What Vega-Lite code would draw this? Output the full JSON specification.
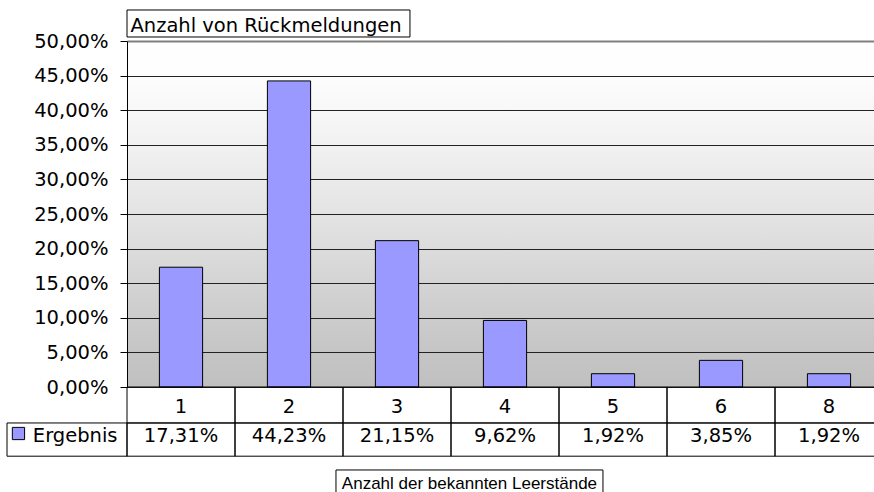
{
  "$schema": "https://vega.github.io/schema/vega-lite/v6.json",
  "width": 747,
  "height": 346,
  "autosize": "none",
  "padding": {"left": 127, "top": 41, "right": 0, "bottom": 105},
  "config": {
    "locale": {"number": {"decimal": ",", "thousands": ".", "grouping": [3], "currency": ["", " €"]}},
    "font": "DejaVu Sans",
    "axisY": {
      "labelFont": "DejaVu Sans",
      "labelFontSize": 19.5,
      "labelColor": "#000",
      "labelPadding": 12,
      "labelOverlap": false,
      "tickSize": 7,
      "tickColor": "#000",
      "domainColor": "#000",
      "grid": true
    },
    "view": {
      "stroke": null,
      "fill": {"gradient": "linear", "x1": 0, "y1": 0, "x2": 0, "y2": 1,
        "stops": [
          {"offset": 0, "color": "#FFFFFF"},
          {"offset": 0.1, "color": "#FDFDFD"},
          {"offset": 0.2, "color": "#F8F8F8"},
          {"offset": 0.3, "color": "#F1F1F1"},
          {"offset": 0.45, "color": "#E7E7E7"},
          {"offset": 0.6, "color": "#DCDCDC"},
          {"offset": 0.75, "color": "#D0D0D0"},
          {"offset": 0.9, "color": "#C5C5C5"},
          {"offset": 1, "color": "#C0C0C0"}
        ]}
    },
    "text": {"font": "DejaVu Sans", "fontSize": 19.5, "color": "#000"}
  },
  "datasets": {
    "results": [
      {"k": "1", "v": 0.1731},
      {"k": "2", "v": 0.4423},
      {"k": "3", "v": 0.2115},
      {"k": "4", "v": 0.0962},
      {"k": "5", "v": 0.0192},
      {"k": "6", "v": 0.0385},
      {"k": "8", "v": 0.0192}
    ]
  },
  "layer": [
    {
      "data": {"name": "results"},
      "encoding": {
        "x": {"field": "k", "type": "nominal", "sort": null, "axis": null,
          "scale": {"type": "band", "range": [0, 756], "paddingInner": 0, "paddingOuter": 0}}
      },
      "layer": [
        {
          "mark": {"type": "bar", "width": {"band": 0.4}, "fill": "#9999FF", "stroke": "#000", "strokeWidth": 1},
          "encoding": {
            "y": {"field": "v", "type": "quantitative",
              "scale": {"domain": [0, 0.5], "nice": false, "zero": true},
              "axis": {"title": null, "format": ".2%", "values": [0, 0.05, 0.1, 0.15, 0.2, 0.25, 0.3, 0.35, 0.4, 0.45, 0.5],
                "gridColor": {"condition": {"test": "datum.value >= 0.5", "value": "#808080"}, "value": "#222"},
                "gridWidth": {"condition": {"test": "datum.value >= 0.5", "value": 2}, "value": 1}}
            }
          }
        },
        {
          "mark": {"type": "rect", "fill": null, "stroke": "#000", "strokeWidth": 1},
          "encoding": {"y": {"datum": 0, "axis": {"title": null, "format": ".2%", "values": [0, 0.05, 0.1, 0.15, 0.2, 0.25, 0.3, 0.35, 0.4, 0.45, 0.5]}}, "y2": {"datum": -0.052}}
        },
        {
          "mark": {"type": "rect", "fill": null, "stroke": "#000", "strokeWidth": 1},
          "encoding": {"y": {"datum": -0.052, "axis": {"title": null, "format": ".2%", "values": [0, 0.05, 0.1, 0.15, 0.2, 0.25, 0.3, 0.35, 0.4, 0.45, 0.5]}}, "y2": {"datum": -0.1}}
        },
        {
          "mark": {"type": "text", "align": "center", "baseline": "alphabetic"},
          "encoding": {"y": {"datum": -0.0371, "axis": {"title": null, "format": ".2%", "values": [0, 0.05, 0.1, 0.15, 0.2, 0.25, 0.3, 0.35, 0.4, 0.45, 0.5]}}, "text": {"field": "k"}}
        },
        {
          "mark": {"type": "text", "align": "center", "baseline": "alphabetic"},
          "encoding": {"y": {"datum": -0.0788, "axis": {"title": null, "format": ".2%", "values": [0, 0.05, 0.1, 0.15, 0.2, 0.25, 0.3, 0.35, 0.4, 0.45, 0.5]}}, "text": {"field": "v", "type": "quantitative", "format": ".2%"}}
        }
      ]
    },
    {
      "data": {"values": [{"legend": "Ergebnis", "ytitle": "Anzahl von Rückmeldungen", "xtitle": "Anzahl der bekannten Leerstände"}]},
      "layer": [
        {
          "mark": {"type": "rect", "fill": null, "stroke": "#000", "strokeWidth": 1},
          "encoding": {
            "x": {"datum": -1.111, "type": "quantitative", "axis": null, "scale": {"domain": [0, 7], "range": [0, 756], "nice": false, "zero": false}},
            "x2": {"datum": 0},
            "y": {"datum": -0.052, "axis": {"title": null, "format": ".2%", "values": [0, 0.05, 0.1, 0.15, 0.2, 0.25, 0.3, 0.35, 0.4, 0.45, 0.5]}}, "y2": {"datum": -0.1}
          }
        },
        {
          "mark": {"type": "point", "shape": "square", "size": 150, "filled": true, "fill": "#9999FF", "stroke": "#000", "strokeWidth": 1, "opacity": 1},
          "encoding": {
            "x": {"datum": -1.005, "type": "quantitative", "axis": null},
            "y": {"datum": -0.0672, "axis": {"title": null, "format": ".2%", "values": [0, 0.05, 0.1, 0.15, 0.2, 0.25, 0.3, 0.35, 0.4, 0.45, 0.5]}}
          }
        },
        {
          "mark": {"type": "text", "align": "left", "baseline": "alphabetic"},
          "encoding": {
            "x": {"datum": -0.872, "type": "quantitative", "axis": null},
            "y": {"datum": -0.0788, "axis": {"title": null, "format": ".2%", "values": [0, 0.05, 0.1, 0.15, 0.2, 0.25, 0.3, 0.35, 0.4, 0.45, 0.5]}},
            "text": {"field": "legend"}
          }
        },
        {
          "mark": {"type": "rect", "fill": "#FFFFFF", "stroke": "#000", "strokeWidth": 1},
          "encoding": {
            "x": {"datum": 0, "type": "quantitative", "axis": null},
            "x2": {"datum": 2.62},
            "y": {"datum": 0.5058, "axis": {"title": null, "format": ".2%", "values": [0, 0.05, 0.1, 0.15, 0.2, 0.25, 0.3, 0.35, 0.4, 0.45, 0.5]}}, "y2": {"datum": 0.5448}
          }
        },
        {
          "mark": {"type": "text", "align": "left", "baseline": "alphabetic"},
          "encoding": {
            "x": {"datum": 0.032, "type": "quantitative", "axis": null},
            "y": {"datum": 0.5134, "axis": {"title": null, "format": ".2%", "values": [0, 0.05, 0.1, 0.15, 0.2, 0.25, 0.3, 0.35, 0.4, 0.45, 0.5]}},
            "text": {"field": "ytitle"}
          }
        },
        {
          "mark": {"type": "rect", "fill": "#FFFFFF", "stroke": "#000", "strokeWidth": 1},
          "encoding": {
            "x": {"datum": 1.935, "type": "quantitative", "axis": null},
            "x2": {"datum": 4.407},
            "y": {"datum": -0.1199, "axis": {"title": null, "format": ".2%", "values": [0, 0.05, 0.1, 0.15, 0.2, 0.25, 0.3, 0.35, 0.4, 0.45, 0.5]}}, "y2": {"datum": -0.17}
          }
        },
        {
          "mark": {"type": "text", "align": "center", "baseline": "alphabetic", "font": "Liberation Sans", "fontSize": 17},
          "encoding": {
            "x": {"datum": 3.171, "type": "quantitative", "axis": null},
            "y": {"datum": -0.1474, "axis": {"title": null, "format": ".2%", "values": [0, 0.05, 0.1, 0.15, 0.2, 0.25, 0.3, 0.35, 0.4, 0.45, 0.5]}},
            "text": {"field": "xtitle"}
          }
        }
      ]
    }
  ],
  "resolve": {"scale": {"x": "independent"}}
}
